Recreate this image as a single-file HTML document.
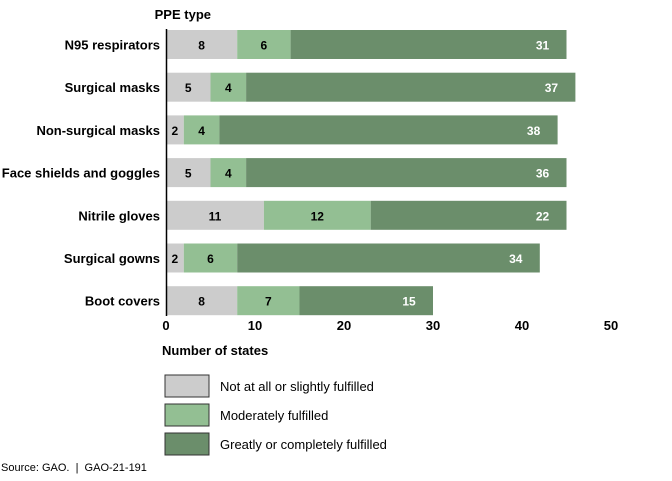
<!DOCTYPE html>
<html><head><meta charset="utf-8"><style>
body{margin:0;background:#fff;font-family:"Liberation Sans",Arial,sans-serif;}
svg text{font-family:"Liberation Sans",Arial,sans-serif;}
</style></head><body>
<svg id="chart" width="672" height="476">
<text x="211" y="19" font-size="13" font-weight="bold" text-anchor="end">PPE type</text>
<g id="bars"></g>
<line x1="166.5" y1="29" x2="166.5" y2="316" stroke="#000" stroke-width="1.5"/>
<g id="ticks"></g>
<text x="162" y="355" font-size="13" font-weight="bold">Number of states</text>
<g>
<rect x="165" y="375" width="44" height="22" fill="#cccccc" stroke="#333"/>
<text x="220" y="391" font-size="13">Not at all or slightly fulfilled</text>
<rect x="165" y="404" width="44" height="22" fill="#93bf93" stroke="#333"/>
<text x="220" y="420" font-size="13">Moderately fulfilled</text>
<rect x="165" y="433" width="44" height="22" fill="#6b8e6b" stroke="#333"/>
<text x="220" y="449" font-size="13">Greatly or completely fulfilled</text>
</g>
<text x="1" y="471" font-size="11">Source: GAO.&#160;&#160;|&#160;&#160;GAO-21-191</text>
</svg>
<script>
const categories=["N95 respirators","Surgical masks","Non-surgical masks","Face shields and goggles","Nitrile gloves","Surgical gowns","Boot covers"];
const notAtAll=[8,5,2,5,11,2,8];
const moderately=[6,4,4,4,12,6,7];
const greatly=[31,37,38,36,22,34,15];
const xTicks=[0,10,20,30,40,50];
const NS="http://www.w3.org/2000/svg";
const x=v=>166+v*8.9;
const yTop=i=>30+i*42.7;
const bh=29;
const colors=["#cccccc","#93bf93","#6b8e6b"];
const textCol=["#000","#000","#fff"];
const gb=document.getElementById("bars");
function mk(tag,attrs,parent){const e=document.createElementNS(NS,tag);for(const k in attrs)e.setAttribute(k,attrs[k]);parent.appendChild(e);return e;}
categories.forEach((c,i)=>{
  const t=mk("text",{x:160,y:yTop(i)+bh/2+5,"font-size":13,"font-weight":"bold","text-anchor":"end"},gb);
  t.textContent=c;
  
  
  const vals=[notAtAll[i],moderately[i],greatly[i]];
  let acc=0;
  vals.forEach((v,s)=>{
    const r=mk("rect",{x:x(acc),y:yTop(i),width:x(acc+v)-x(acc),height:bh,fill:colors[s]},gb);
    
    
    const lx=s===2?x(acc+v)-24:(x(acc)+x(acc+v))/2;
    const lt=mk("text",{x:lx,y:yTop(i)+bh/2+5,"font-size":12,"font-weight":"bold","text-anchor":"middle",fill:textCol[s]},gb);
    lt.textContent=v;
    
    
    acc+=v;
  });
});
const gt=document.getElementById("ticks");
xTicks.forEach(v=>{
  const t=mk("text",{x:x(v),y:330,"font-size":13,"font-weight":"bold","text-anchor":"middle"},gt);
  t.textContent=v;
  
  
});
</script>
</body></html>
